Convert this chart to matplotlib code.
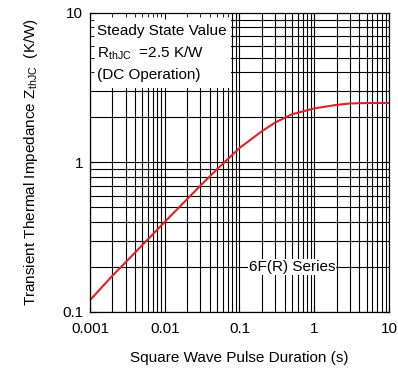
"""
Transient thermal impedance curve, 6F(R) series.
"""

import matplotlib.pyplot as plt
from matplotlib.patches import Rectangle

plt.rcParams['font.family'] = ['Liberation Sans', 'DejaVu Sans']
plt.rcParams['mathtext.fontset'] = 'custom'
plt.rcParams['mathtext.rm'] = 'Liberation Sans'
plt.rcParams['mathtext.it'] = 'Liberation Sans'

# Data
pulse_s = [0.001, 0.002, 0.003, 0.005, 0.01, 0.02, 0.03, 0.05, 0.1,
           0.2, 0.3, 0.5, 1, 2, 3, 5, 10]
z_thjc = [0.12, 0.175, 0.215, 0.28, 0.40, 0.57, 0.70, 0.90, 1.25,
          1.62, 1.85, 2.10, 2.30, 2.43, 2.48, 2.50, 2.50]

x_ticks = [0.001, 0.01, 0.1, 1, 10]
x_labels = ['0.001', '0.01', '0.1', '1', '10']
y_ticks = [0.1, 1, 10]
y_labels = ['0.1', '1', '10']

COLOR_CURVE = '#e0202a'
FS = 11

fig = plt.figure(figsize=(3.98, 3.69), dpi=100)
ax = fig.add_axes([0.2261, 0.1545, 0.7513, 0.8103])
ax.set_xscale('log')
ax.set_yscale('log')
ax.set_xlim(0.001, 10)
ax.set_ylim(0.1, 10)

# grid by hand so the white label box can sit above it
for dec in [0.001, 0.01, 0.1, 1]:
    for m in range(1, 10):
        ax.axvline(dec * m, color='black', lw=0.8, zorder=1)
for dec in [0.1, 1]:
    for m in range(1, 10):
        ax.axhline(dec * m, color='black', lw=0.8, zorder=1)

ax.plot(pulse_s, z_thjc, color=COLOR_CURVE, lw=1.5, zorder=2)

# steady state box
ax.add_patch(Rectangle((0, 0.75), 0.47, 0.25, transform=ax.transAxes,
                       facecolor='white', edgecolor='none', zorder=1.5))
ax.text(0.023, 0.94, 'Steady State Value', transform=ax.transAxes,
        fontsize=FS, va='center', ha='left', zorder=3)
ax.text(0.023, 0.866, r'R$_{\mathrm{thJC}}$  =2.5 K/W', transform=ax.transAxes,
        fontsize=FS, va='center', ha='left', zorder=3)
ax.text(0.023, 0.793, '(DC Operation)', transform=ax.transAxes,
        fontsize=FS, va='center', ha='left', zorder=3)

ax.text(0.51, 0.2, '6F(R) Series', fontsize=FS, ha='center', va='center',
        zorder=3, bbox=dict(facecolor='white', edgecolor='none', pad=0.5))

ax.set_xticks(x_ticks)
ax.set_xticklabels(x_labels)
ax.set_yticks(y_ticks)
ax.set_yticklabels(y_labels)
ax.tick_params(which='both', direction='in', top=True, right=True,
               labelsize=FS, pad=5)
ax.tick_params(axis='x', which='both', pad=7)
ax.tick_params(which='major', length=4)
ax.tick_params(which='minor', length=3)
for s in ax.spines.values():
    s.set_linewidth(0.9)

ax.set_xlabel('Square Wave Pulse Duration (s)', fontsize=FS, labelpad=11)
ax.set_ylabel(r'Transient Thermal Impedance Z$_{\mathrm{thJC}}$  (K/W)',
              fontsize=FS, labelpad=16)

fig.savefig('out.png', dpi=100, facecolor='white')
